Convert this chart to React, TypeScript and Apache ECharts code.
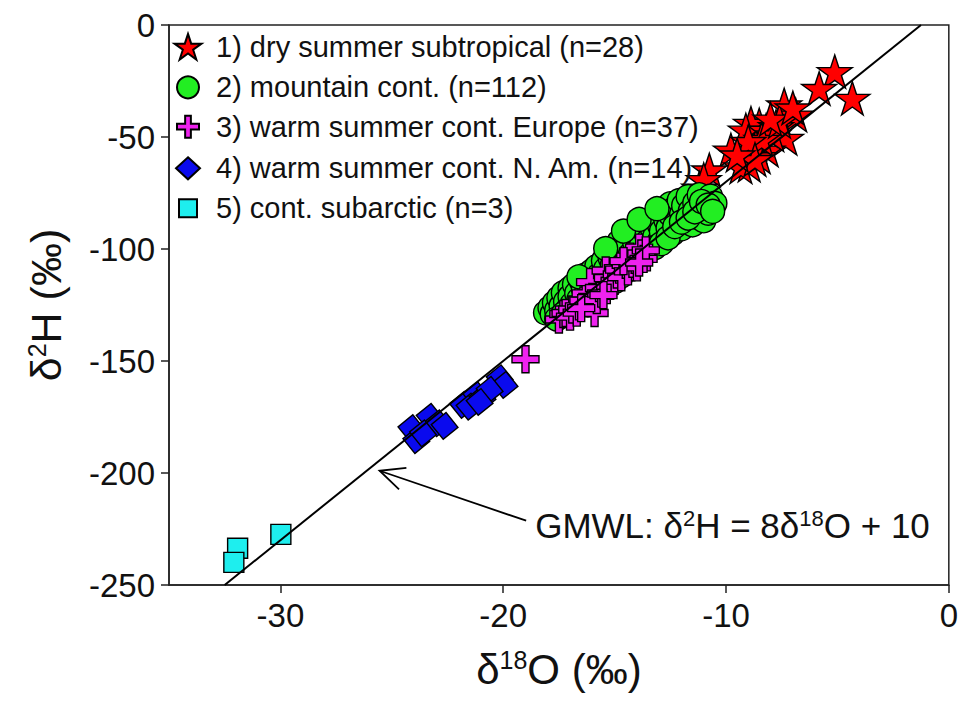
import React, { useEffect, useRef } from 'react';
import * as echarts from 'echarts';

const FONT = '"Liberation Sans", Arial, Helvetica, sans-serif';
const INK = '#111111';

const seriesNames = [
  '1) dry summer subtropical (n=28)',
  '2) mountain cont. (n=112)',
  '3) warm summer cont. Europe (n=37)',
  '4) warm summer cont. N. Am. (n=14)',
  '5) cont. subarctic (n=3)',
];

// δ18O, δ2H pairs (‰)
const drySummerSubtropical = [
  [-5.12, -20.8], [-5.82, -28.3], [-4.33, -32.7], [-7.39, -35.7], [-6.87, -40.2],
  [-8.51, -44.6], [-8.88, -43.9], [-7.76, -45.4], [-7.31, -50.6], [-9.78, -55.8],
  [-8.66, -54.3], [-8.15, -55.8], [-8.96, -62.5], [-9.33, -63.3], [-10.75, -64.7],
  [-8.51, -58.8], [-11.2, -72.8], [-9.11, -46.9], [-8.2, -47.0], [-7.9, -49.0],
  [-8.4, -51.0], [-7.6, -43.0], [-8.0, -42.0], [-9.0, -52.0], [-7.0, -37.0],
  [-8.7, -60.0], [-9.5, -58.0], [-11.0, -69.0],
];

const mountainCont = [
  [-18.1, -128.5], [-17.9, -126.2], [-17.8, -129.0], [-17.7, -124.0], [-17.6, -127.5], [-17.5, -121.8],
  [-17.4, -125.5], [-17.3, -119.5], [-17.2, -123.6], [-17.1, -127.0], [-17.0, -117.5], [-17.0, -121.2],
  [-16.9, -124.5], [-16.8, -115.8], [-16.7, -119.8], [-16.6, -122.5], [-16.5, -114.2], [-16.4, -117.6],
  [-16.3, -111.5], [-16.3, -120.4], [-16.2, -115.0], [-16.1, -118.2], [-16.0, -109.6], [-16.0, -113.4],
  [-15.9, -116.6], [-15.8, -107.8], [-15.7, -111.6], [-15.6, -114.8], [-15.5, -105.2], [-15.4, -109.0],
  [-15.3, -112.7], [-15.2, -103.9], [-15.1, -107.2], [-15.0, -110.9], [-15.0, -101.6], [-14.9, -105.5],
  [-14.8, -96.8], [-14.8, -108.6], [-14.7, -100.5], [-14.6, -104.0], [-14.5, -95.2], [-14.4, -98.8],
  [-14.3, -102.6], [-14.2, -93.4], [-14.1, -97.0], [-14.0, -90.5], [-14.0, -100.8], [-13.9, -94.6],
  [-13.8, -98.5], [-13.7, -89.6], [-13.6, -92.8], [-13.5, -96.4], [-13.4, -87.2], [-13.3, -90.8],
  [-13.2, -94.6], [-13.1, -85.4], [-13.0, -88.9], [-13.0, -96.8], [-12.9, -92.2], [-12.8, -83.6],
  [-12.7, -87.0], [-12.6, -90.6], [-12.5, -79.8], [-12.5, -84.6], [-12.4, -93.2], [-12.3, -81.8],
  [-12.2, -88.2], [-12.1, -78.4], [-12.0, -84.9], [-12.0, -91.0], [-11.9, -80.6], [-11.8, -86.8],
  [-11.7, -76.6], [-11.6, -83.0], [-11.5, -89.2], [-11.4, -79.5], [-11.3, -85.8], [-11.2, -75.8],
  [-11.1, -81.6], [-11.0, -87.4], [-10.9, -78.2], [-10.8, -84.0], [-10.7, -76.4], [-10.5, -79.6],
  [-17.6, -131.2], [-17.3, -128.9], [-16.9, -127.8], [-16.6, -112.4], [-16.2, -125.0], [-15.9, -121.0],
  [-15.6, -118.8], [-15.3, -116.4], [-15.0, -114.6], [-14.7, -112.0], [-14.4, -107.5], [-14.1, -105.2],
  [-13.8, -103.6], [-13.5, -101.0], [-13.2, -99.4], [-12.9, -97.6], [-12.6, -95.0], [-12.3, -90.0],
  [-12.0, -88.0], [-11.7, -86.2], [-11.4, -83.4], [-11.1, -78.8], [-10.8, -80.4], [-10.6, -83.2],
  [-14.6, -92.0], [-13.9, -86.8], [-13.1, -82.0], [-15.4, -99.8],
];

const warmSummerEurope = [
  [-17.5, -131.5], [-17.3, -129.0], [-17.2, -128.6], [-17.0, -130.2], [-16.9, -127.0], [-16.7, -128.4],
  [-16.6, -125.6], [-16.4, -123.0], [-16.3, -119.8], [-16.1, -114.8], [-16.0, -121.4], [-15.9, -128.6],
  [-15.8, -122.8], [-15.7, -117.4], [-15.6, -119.9], [-15.4, -109.6], [-15.3, -113.0], [-15.2, -116.4],
  [-15.0, -114.2], [-14.9, -111.4], [-14.8, -109.2], [-14.7, -112.6], [-14.5, -107.0], [-14.4, -110.0],
  [-14.3, -103.4], [-14.2, -106.6], [-14.1, -104.8], [-14.0, -108.2], [-13.9, -99.4], [-13.8, -102.0],
  [-13.7, -104.4], [-13.6, -100.6], [-16.5, -126.4], [-15.5, -120.6], [-14.6, -105.4], [-13.9, -106.0],
  [-19.0, -149.2],
];

const warmSummerNAm = [
  [-24.12, -180.0], [-23.3, -174.9], [-23.9, -185.3], [-22.93, -177.8], [-23.6, -182.3],
  [-22.63, -179.0], [-21.81, -169.6], [-21.21, -165.2], [-21.51, -170.4], [-20.93, -166.5],
  [-20.16, -157.7], [-19.94, -160.7], [-20.61, -162.9], [-21.06, -168.3],
];

const contSubarctic = [[-31.92, -233.6], [-32.09, -239.9], [-29.98, -227.4]];

const xTicks = [-30, -20, -10, 0];
const xRange = [-35, 0];
const yRange = [-250, 0];
const yStep = 50;

// GMWL: δ2H = 8 δ18O + 10
const gmwlSlope = 8;
const gmwlIntercept = 10;
const gmwlXRange = [-32.5, -1.25];

// annotation arrow (data coordinates)
const arrowTip = [-25.55, -199.0];
const arrowTail = [-18.97, -221.3];

const STAR =
  'path://M47.55,0L58.78,34.55L95.1,34.55L65.72,55.9L76.94,90.45L47.55,69.1L18.16,90.45L29.38,55.9L0,34.55L36.32,34.55Z';
const CROSS = 'path://M3.7,0H6.3V3.7H10V6.3H6.3V10H3.7V6.3H0V3.7H3.7Z';

const colors = ['#ff0000', '#22ee22', '#ee22ee', '#0a0aee', '#1eeeee'];
const plotSymbols = [STAR, 'circle', CROSS, 'rect', 'rect'];
const plotSizes: any[] = [[35, 33.3], 24, 27, 19, 20];
const plotRotate = [0, 0, 0, 39, 0];
const legendIcons = [STAR, 'circle', CROSS, 'diamond', 'rect'];
const legendW = [27, 22, 22, 24, 18];
const legendH = [25.7, 22, 22, 22, 18];
const legendRowCenters = [46.7, 87.3, 126.7, 168.3, 208.3];
const legendIconCenterX = 187;
const legendTextX = 215;
const legendFont = 29;

const supRich = {
  sup: { fontSize: 25, fontFamily: FONT, color: INK, verticalAlign: 'top' as const, lineHeight: 44 },
};

export default function App() {
  const ref = useRef<HTMLDivElement>(null);

  useEffect(() => {
    document.body.style.margin = '0';
    if (!ref.current) return;
    const chart = echarts.init(ref.current, undefined, { renderer: 'svg' });
    const allData = [drySummerSubtropical, mountainCont, warmSummerEurope, warmSummerNAm, contSubarctic];

    const scatterSeries = allData.map((d, i) => ({
      type: 'scatter',
      name: seriesNames[i],
      data: d,
      symbol: plotSymbols[i],
      symbolSize: plotSizes[i],
      symbolRotate: plotRotate[i],
      itemStyle: { color: colors[i], borderColor: '#000', borderWidth: 1.4, opacity: 1 },
      emphasis: { disabled: true },
      silent: true,
    }));

    const legends = seriesNames.map((n, i) => {
      const h = Math.max(legendH[i], legendFont);
      const w = legendW[i];
      return {
        data: [{ name: n, icon: legendIcons[i] }],
        left: legendIconCenterX - w / 2,
        top: legendRowCenters[i] - h / 2,
        padding: 0,
        itemWidth: w,
        itemHeight: legendH[i],
        symbolRotate: 0,
        selectedMode: false,
        textStyle: {
          fontSize: legendFont,
          fontFamily: FONT,
          color: INK,
          padding: [0, 0, 0, legendTextX - (legendIconCenterX + w / 2 + 5)],
        },
      };
    });

    const option: any = {
      animation: false,
      backgroundColor: '#ffffff',
      textStyle: { fontFamily: FONT },
      grid: {
        left: 169, right: 10, top: 25, bottom: 124,
        show: true, borderColor: '#222', borderWidth: 1.5, backgroundColor: 'transparent',
      },
      legend: legends,
      xAxis: {
        type: 'value',
        min: xRange[0],
        max: xRange[1],
        name: 'δ{sup|18}O (‰)',
        nameLocation: 'middle',
        nameGap: 62,
        nameTextStyle: { fontSize: 42, fontFamily: FONT, color: INK, lineHeight: 44, rich: supRich },
        axisLine: { show: true, onZero: false, lineStyle: { color: '#222', width: 1.5 } },
        axisTick: { show: true, inside: false, length: 8, customValues: xTicks, lineStyle: { color: '#222', width: 1.5 } },
        axisLabel: { customValues: xTicks, fontSize: 33, fontFamily: FONT, color: INK, margin: 14 },
        splitLine: { show: false },
      },
      yAxis: {
        type: 'value',
        min: yRange[0],
        max: yRange[1],
        interval: yStep,
        name: 'δ{sup|2}H (‰)',
        nameLocation: 'middle',
        nameGap: 101,
        nameRotate: 90,
        nameTextStyle: { fontSize: 43, fontFamily: FONT, color: INK, lineHeight: 44, rich: supRich },
        axisLine: { show: true, onZero: false, lineStyle: { color: '#222', width: 1.5 } },
        axisTick: { show: true, inside: false, length: 8, lineStyle: { color: '#222', width: 1.5 } },
        axisLabel: { fontSize: 33, fontFamily: FONT, color: INK, margin: 14 },
        splitLine: { show: false },
      },
      series: [
        ...scatterSeries,
        {
          type: 'line',
          name: 'GMWL',
          data: gmwlXRange.map((x) => [x, gmwlSlope * x + gmwlIntercept]),
          symbol: 'none',
          lineStyle: { color: '#000', width: 2 },
          silent: true,
          z: 3,
        },
      ],
    };

    chart.setOption(option);

    const tip = chart.convertToPixel({ gridIndex: 0 }, arrowTip) as number[];
    const tail = chart.convertToPixel({ gridIndex: 0 }, arrowTail) as number[];
    const dx = tail[0] - tip[0];
    const dy = tail[1] - tip[1];
    const len = Math.hypot(dx, dy);
    const ux = dx / len;
    const uy = dy / len;
    const armLen = 27;
    const ang = (25 * Math.PI) / 180;
    const rot = (a: number) => [
      tip[0] + armLen * (ux * Math.cos(a) - uy * Math.sin(a)),
      tip[1] + armLen * (ux * Math.sin(a) + uy * Math.cos(a)),
    ];

    chart.setOption({
      graphic: [
        {
          type: 'line',
          shape: { x1: tail[0], y1: tail[1], x2: tip[0], y2: tip[1] },
          style: { stroke: '#000', lineWidth: 1.8 },
          z: 10,
        },
        {
          type: 'polyline',
          shape: { points: [rot(ang), tip, rot(-ang)] },
          style: { stroke: '#000', lineWidth: 1.8, fill: null },
          z: 10,
        },
        {
          type: 'text',
          x: tail[0] + 9,
          y: tail[1] + 5,
          style: {
            text: 'GMWL: δ{sup|2}H = 8δ{sup|18}O + 10',
            fontSize: 35,
            fontFamily: FONT,
            fill: INK,
            lineHeight: 37,
            verticalAlign: 'middle',
            align: 'left',
            rich: {
              sup: { fontSize: 22, fontFamily: FONT, fill: INK, verticalAlign: 'top', lineHeight: 37 },
            },
          },
          z: 10,
        },
      ],
    });

    return () => chart.dispose();
  }, []);

  return <div ref={ref} style={{ width: 961, height: 709 }} />;
}
